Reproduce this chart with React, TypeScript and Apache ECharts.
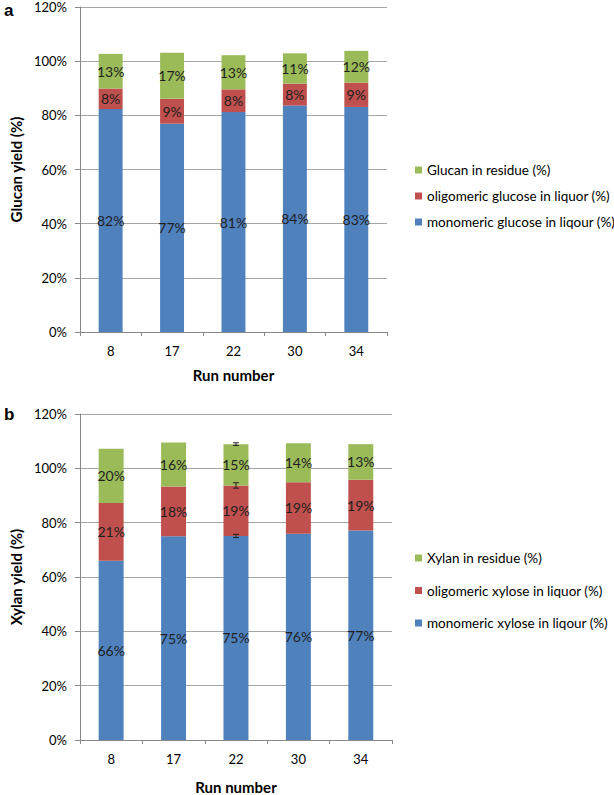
import React, { useEffect, useRef } from "react";
import * as echarts from "echarts";

const runs = ["8", "17", "22", "30", "34"];

// Panel a (glucan), % of glucan
const monoGlucose = [82.3, 76.9, 81.2, 83.6, 83.1];
const oligoGlucose = [7.6, 9.2, 8.4, 8.1, 9.0];
const glucanResidue = [12.8, 17.0, 12.6, 11.2, 11.7];

// Panel b (xylan), % of xylan
const monoXylose = [66.0, 75.0, 75.1, 75.9, 77.1];
const oligoXylose = [21.2, 18.3, 18.6, 19.0, 18.7];
const xylanResidue = [20.0, 16.2, 15.2, 14.3, 13.1];

// Error bars shown on run 22 in panel b: [category index, stacked top, +/- error]
const xylanErrors = [
  [2, 75.1, 0.6],
  [2, 93.7, 1.0],
  [2, 108.9, 0.5],
];

const yTicks = { min: 0, max: 120, interval: 20 };

const BLUE = "#4F81BD";
const RED = "#C0504D";
const GREEN = "#9BBB59";
const FONT = "Lato, 'Open Sans', sans-serif";
const GRID_COLOR = "#a6a6a6";

export default function App() {
  const ref = useRef<HTMLDivElement>(null);

  useEffect(() => {
    if (!ref.current) return;
    const chart = echarts.init(ref.current, undefined, { renderer: "svg" });

    const label = {
      show: true,
      position: "inside",
      color: "#1f1f1f",
      fontSize: 14,
      fontFamily: FONT,
      formatter: (p: any) => `${Math.round(p.value)}%`,
    };

    const catAxis = (gridIndex: number) => ({
      type: "category",
      gridIndex,
      data: runs,
      name: "Run number",
      nameLocation: "middle",
      nameGap: gridIndex === 0 ? 35 : 39,
      nameTextStyle: { fontFamily: FONT, fontWeight: "bold", fontSize: 15, color: "#000" },
      axisLine: { lineStyle: { color: "#888" } },
      axisTick: { show: true, length: 4, alignWithLabel: false, lineStyle: { color: "#888" } },
      axisLabel: { color: "#000", fontSize: 13, fontFamily: FONT, margin: 12 },
    });

    const valAxis = (gridIndex: number, name: string) => ({
      type: "value",
      gridIndex,
      min: yTicks.min,
      max: yTicks.max,
      interval: yTicks.interval,
      name,
      nameLocation: "middle",
      nameGap: 51,
      nameTextStyle: { fontFamily: FONT, fontWeight: "bold", fontSize: 15, color: "#000" },
      axisLine: { show: true, lineStyle: { color: "#888" } },
      axisTick: { show: true, length: 5, lineStyle: { color: "#888" } },
      axisLabel: { color: "#000", fontSize: 13, fontFamily: FONT, margin: 13, formatter: "{value}%" },
      splitLine: { show: true, lineStyle: { color: GRID_COLOR } },
    });

    const bar = (name: string, data: number[], color: string, idx: number, stack: string) => ({
      name,
      type: "bar",
      stack,
      xAxisIndex: idx,
      yAxisIndex: idx,
      data,
      barWidth: idx === 0 ? "39%" : "40%",
      itemStyle: { color },
      label,
    });

    chart.setOption({
      animation: false,
      grid: [
        { left: 75, top: 7, width: 312, height: 325 },
        { left: 75, top: 414, width: 317, height: 334 },
      ],
      legend: [
        {
          orient: "vertical",
          left: 410,
          top: 158,
          itemWidth: 7,
          itemHeight: 7,
          itemGap: 12,
          icon: "rect",
          data: ["Glucan in residue (%)", "oligomeric glucose in liquor (%)", "monomeric glucose in liqour (%)"],
          textStyle: { fontFamily: FONT, fontSize: 13.5, color: "#000" },
        },
        {
          orient: "vertical",
          left: 410,
          top: 546,
          itemWidth: 7,
          itemHeight: 7,
          itemGap: 18.5,
          icon: "rect",
          data: ["Xylan in residue (%)", "oligomeric xylose in liquor (%)", "monomeric xylose in liqour (%)"],
          textStyle: { fontFamily: FONT, fontSize: 13.5, color: "#000" },
        },
      ],
      xAxis: [catAxis(0), catAxis(1)],
      yAxis: [valAxis(0, "Glucan yield (%)"), valAxis(1, "Xylan yield (%)")],
      series: [
        bar("monomeric glucose in liqour (%)", monoGlucose, BLUE, 0, "a"),
        bar("oligomeric glucose in liquor (%)", oligoGlucose, RED, 0, "a"),
        bar("Glucan in residue (%)", glucanResidue, GREEN, 0, "a"),
        bar("monomeric xylose in liqour (%)", monoXylose, BLUE, 1, "b"),
        bar("oligomeric xylose in liquor (%)", oligoXylose, RED, 1, "b"),
        bar("Xylan in residue (%)", xylanResidue, GREEN, 1, "b"),
        {
          type: "custom",
          xAxisIndex: 1,
          yAxisIndex: 1,
          data: xylanErrors,
          z: 10,
          renderItem: (params: any, api: any) => {
            const x = api.value(0);
            const y = api.value(1);
            const e = api.value(2);
            const top = api.coord([x, y + e]);
            const bot = api.coord([x, y - e]);
            const w = 3;
            const style = { stroke: "#222", lineWidth: 1 };
            return {
              type: "group",
              children: [
                { type: "line", shape: { x1: top[0], y1: top[1], x2: bot[0], y2: bot[1] }, style },
                { type: "line", shape: { x1: top[0] - w, y1: top[1], x2: top[0] + w, y2: top[1] }, style },
                { type: "line", shape: { x1: bot[0] - w, y1: bot[1], x2: bot[0] + w, y2: bot[1] }, style },
              ],
            };
          },
        },
      ],
      graphic: [
        { type: "text", left: 4, top: 2, style: { text: "a", fontSize: 17, fontWeight: "bold", fontFamily: "Arial, 'Liberation Sans', sans-serif", fill: "#000" } },
        { type: "text", left: 4, top: 406, style: { text: "b", fontSize: 17, fontWeight: "bold", fontFamily: "Arial, 'Liberation Sans', sans-serif", fill: "#000" } },
      ],
    });

    return () => chart.dispose();
  }, []);

  return (
    <div
      ref={ref}
      style={{ position: "fixed", left: 0, top: 0, width: 614, height: 795, background: "#fff" }}
    />
  );
}
